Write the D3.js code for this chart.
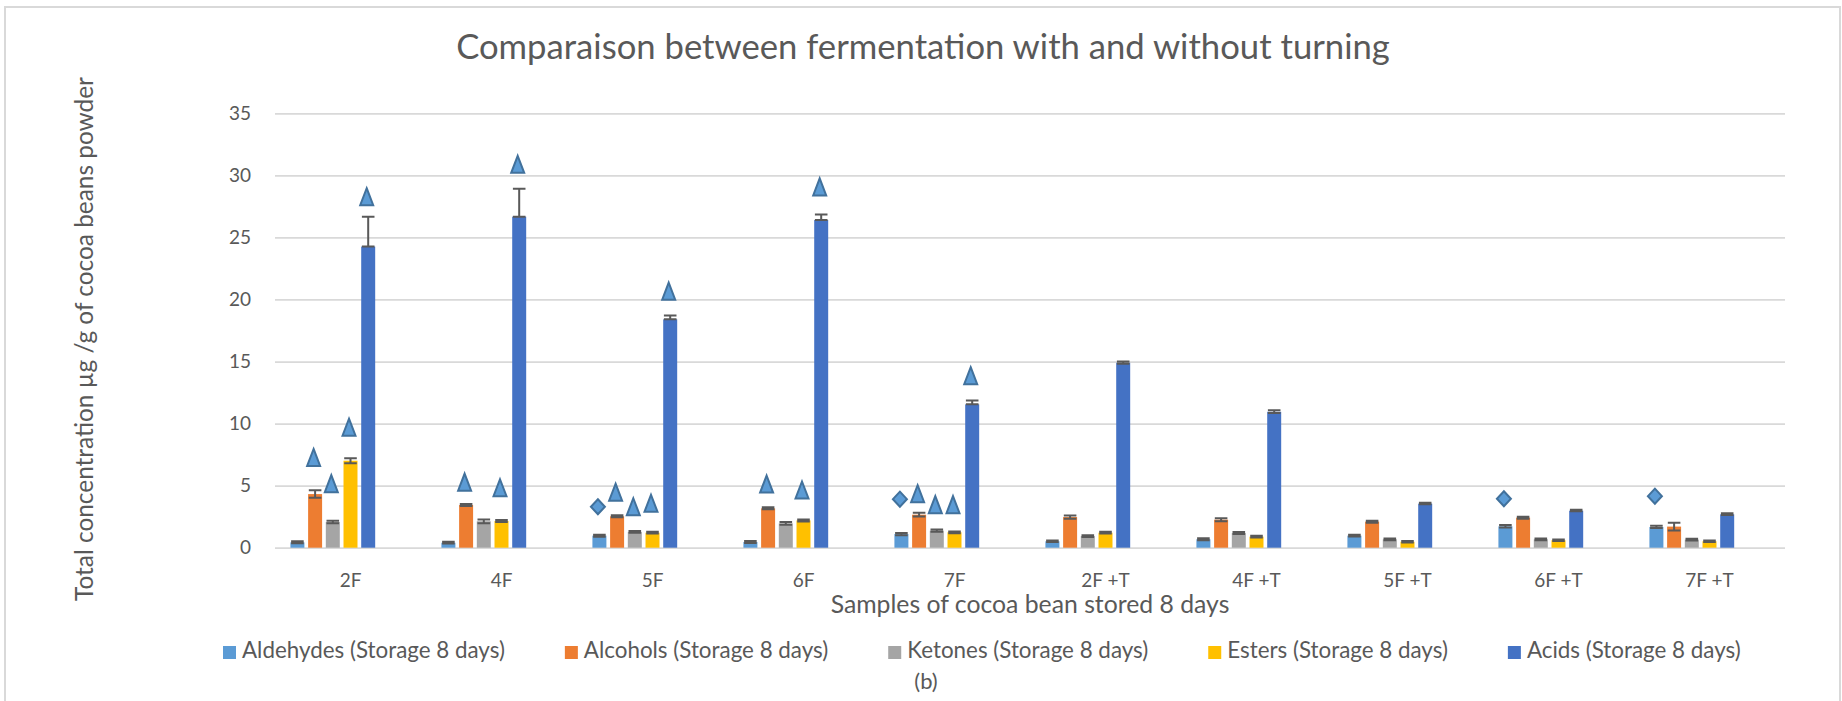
<!DOCTYPE html>
<html>
<head>
<meta charset="utf-8">
<script src="https://cdn.jsdelivr.net/npm/d3@7"></script>
<style>
  html, body { margin: 0; padding: 0; background: #ffffff; }
  svg { display: block; }
  text { font-family: Lato, "Open Sans", sans-serif; fill: #595959; }
</style>
</head>
<body>
<svg id="chart" width="1842" height="701"></svg>
<script>
// ---- data -------------------------------------------------------------
const categories = ["2F", "4F", "5F", "6F", "7F", "2F +T", "4F +T", "5F +T", "6F +T", "7F +T"];
const seriesNames = [
  "Aldehydes (Storage 8 days)",
  "Alcohols (Storage 8 days)",
  "Ketones (Storage 8 days)",
  "Esters (Storage 8 days)",
  "Acids (Storage 8 days)"
];
const yTicks = [0, 5, 10, 15, 20, 25, 30, 35];

const aldehydes = [0.43, 0.40, 0.97, 0.46, 1.10, 0.52, 0.68, 0.97, 1.72, 1.67];
const alcohols  = [4.32, 3.44, 2.53, 3.17, 2.66, 2.47, 2.26, 2.10, 2.42, 1.70];
const ketones   = [2.07, 2.13, 1.27, 1.96, 1.37, 0.94, 1.18, 0.68, 0.68, 0.65];
const esters    = [7.01, 2.15, 1.21, 2.20, 1.24, 1.21, 0.89, 0.48, 0.60, 0.52];
const acids     = [24.26, 26.67, 18.40, 26.40, 11.55, 14.90, 10.95, 3.55, 2.98, 2.69];

// standard deviations (symmetric unless stated)
const aldehydesErr = [0.08, 0.07, 0.08, 0.08, 0.09, 0.07, 0.08, 0.07, 0.10, 0.09];
const alcoholsErr  = [0.30, 0.08, 0.08, 0.08, 0.15, 0.13, 0.12, 0.08, 0.08, 0.32];
const ketonesErr   = [0.10, 0.15, 0.07, 0.12, 0.09, 0.07, 0.08, 0.07, 0.07, 0.07];
const estersErr    = [0.20, 0.08, 0.07, 0.08, 0.07, 0.07, 0.07, 0.06, 0.06, 0.06];
const acidsErrPlus  = [2.40, 2.25, 0.30, 0.45, 0.32, 0.10, 0.12, 0.08, 0.08, 0.08];
const acidsErrMinus = [0.00, 0.00, 0.00, 0.00, 0.00, 0.08, 0.10, 0.05, 0.05, 0.05];

// significance markers (diamond for aldehydes, triangles otherwise)
const aldehydesMark = [null, null, 3.30, null, 3.91, null, null, null, 3.94, 4.15];
const alcoholsMark  = [7.27, 5.28, 4.47, 5.13, 4.35, null, null, null, null, null];
const ketonesMark   = [5.16, null, 3.30, null, 3.47, null, null, null, null, null];
const estersMark    = [9.71, 4.83, 3.58, 4.65, 3.47, null, null, null, null, null];
const acidsMark     = [28.28, 30.89, 20.67, 29.07, 13.86, null, null, null, null, null];

const colors = ["#5b9bd5", "#ed7d31", "#a5a5a5", "#ffc000", "#4472c4"];

// ---- series table built from the arrays above --------------------------
const series = [
  { name: seriesNames[0], values: aldehydes, plus: aldehydesErr, minus: aldehydesErr, marks: aldehydesMark, shape: "diamond" },
  { name: seriesNames[1], values: alcohols,  plus: alcoholsErr,  minus: alcoholsErr,  marks: alcoholsMark,  shape: "triangle" },
  { name: seriesNames[2], values: ketones,   plus: ketonesErr,   minus: ketonesErr,   marks: ketonesMark,   shape: "triangle" },
  { name: seriesNames[3], values: esters,    plus: estersErr,    minus: estersErr,    marks: estersMark,    shape: "triangle" },
  { name: seriesNames[4], values: acids,     plus: acidsErrPlus, minus: acidsErrMinus, marks: acidsMark,    shape: "triangle" }
];
series.forEach((s, i) => s.color = colors[i]);

// ---- layout -----------------------------------------------------------
const svg = d3.select("#chart");
const plot = { left: 275, right: 1785, top: 113.3, bottom: 547.7 };

const x0 = d3.scaleBand().domain(categories).range([plot.left, plot.right]).padding(0);
// each cluster has room for seven slots; the five series fill the first five
const slot = x0.bandwidth() * 0.1172;
const x1 = d3.scaleBand()
  .domain(seriesNames)
  .range([-3.5 * slot, 1.5 * slot])
  .paddingInner(0.21)
  .paddingOuter(0.105);
const y = d3.scaleLinear().domain([0, 35]).range([plot.bottom, plot.top]);

// chart frame
svg.append("rect")
  .attr("x", 5).attr("y", 7)
  .attr("width", 1835).attr("height", 720)
  .attr("fill", "none")
  .attr("stroke", "#d9d9d9")
  .attr("stroke-width", 2);

// gridlines + y tick labels
const yAxis = d3.axisLeft(y).tickValues(yTicks).tickSize(-(plot.right - plot.left)).tickPadding(24);
const gy = svg.append("g").attr("transform", `translate(${plot.left},0)`).call(yAxis);
gy.select(".domain").remove();
gy.selectAll(".tick line").attr("stroke", "#d9d9d9").attr("stroke-width", 1.75);
gy.selectAll(".tick text")
  .attr("font-size", 19)
  .attr("font-family", "Lato, 'Open Sans', sans-serif")
  .attr("fill", "#595959");

// x tick labels
const xAxis = d3.axisBottom(x0).tickSize(0).tickPadding(26);
const gx = svg.append("g").attr("transform", `translate(0,${plot.bottom})`).call(xAxis);
gx.select(".domain").remove();
gx.selectAll(".tick text")
  .attr("font-size", 19)
  .attr("font-family", "Lato, 'Open Sans', sans-serif")
  .attr("fill", "#595959");

// bars
const groups = svg.append("g").selectAll("g")
  .data(series)
  .join("g")
  .attr("fill", d => d.color);

groups.selectAll("rect")
  .data(s => s.values.map((v, i) => ({ s, v, i })))
  .join("rect")
  .attr("x", d => x0(categories[d.i]) + x0.bandwidth() / 2 + x1(d.s.name))
  .attr("y", d => y(d.v))
  .attr("width", x1.bandwidth())
  .attr("height", d => y(0) - y(d.v));

// error bars
const cap = 6.3;
const errData = [];
series.forEach(s => s.values.forEach((v, i) => {
  errData.push({
    cx: x0(categories[i]) + x0.bandwidth() / 2 + x1(s.name) + x1.bandwidth() / 2,
    hi: v + s.plus[i],
    lo: v - s.minus[i]
  });
}));
const eb = svg.append("g").attr("stroke", "#595959").attr("stroke-width", 2).attr("fill", "none");
eb.selectAll("path")
  .data(errData)
  .join("path")
  .attr("d", d => {
    const yh = y(d.hi), yl = y(d.lo);
    return `M${d.cx},${yh}V${yl}M${d.cx - cap},${yh}H${d.cx + cap}M${d.cx - cap},${yl}H${d.cx + cap}`;
  });

// significance markers
const triW = 13, triH = 17, diaW = 14, diaH = 15;
const shapes = {
  triangle: `M0,${-triH / 2}L${triW / 2},${triH / 2}L${-triW / 2},${triH / 2}Z`,
  diamond: `M0,${-diaH / 2}L${diaW / 2},0L0,${diaH / 2}L${-diaW / 2},0Z`
};
const markData = [];
series.forEach(s => s.marks.forEach((m, i) => {
  if (m == null) return;
  markData.push({
    cx: x0(categories[i]) + x0.bandwidth() / 2 + x1(s.name) + x1.bandwidth() / 2 - 1.5,
    v: m,
    shape: s.shape
  });
}));
svg.append("g").selectAll("path")
  .data(markData)
  .join("path")
  .attr("transform", d => `translate(${d.cx},${y(d.v)})`)
  .attr("d", d => shapes[d.shape])
  .attr("fill", "#5b9bd5")
  .attr("stroke", "#41719c")
  .attr("stroke-width", 2)
  .attr("stroke-linejoin", "miter");

// ---- text -------------------------------------------------------------
function fitWidth(sel, target) {
  const w = sel.node().getComputedTextLength();
  const fs = parseFloat(sel.attr("font-size"));
  sel.attr("font-size", (fs * target / w).toFixed(2));
  return sel;
}

const title = svg.append("text")
  .attr("x", 923).attr("y", 59)
  .attr("text-anchor", "middle")
  .attr("font-size", 32)
  .text("Comparaison between fermentation with and without turning");
fitWidth(title, 934);

const xTitle = svg.append("text")
  .attr("x", (plot.left + plot.right) / 2).attr("y", 613)
  .attr("text-anchor", "middle")
  .attr("font-size", 24)
  .text("Samples of cocoa bean stored 8 days");
fitWidth(xTitle, 399);

const yTitle = svg.append("text")
  .attr("transform", "translate(93,339) rotate(-90)")
  .attr("text-anchor", "middle")
  .attr("font-size", 24)
  .text("Total concentration µg /g of cocoa beans powder");
fitWidth(yTitle, 524);

// legend
const legend = svg.append("g");
const probe = legend.append("text").attr("font-size", 20).text(seriesNames[0]);
fitWidth(probe, 263);
const legendFs = probe.attr("font-size");
probe.remove();

let lx = 223;
series.forEach(s => {
  const item = legend.append("g").attr("transform", `translate(${lx},0)`);
  item.append("rect")
    .attr("x", 0).attr("y", 646)
    .attr("width", 13).attr("height", 13)
    .attr("fill", s.color);
  const t = item.append("text")
    .attr("x", 19).attr("y", 658)
    .attr("font-size", legendFs)
    .text(s.name);
  lx += 19 + t.node().getComputedTextLength() + 60;
});

svg.append("text")
  .attr("x", 926).attr("y", 689)
  .attr("text-anchor", "middle")
  .attr("font-size", 22)
  .text("(b)");
</script>
</body>
</html>
